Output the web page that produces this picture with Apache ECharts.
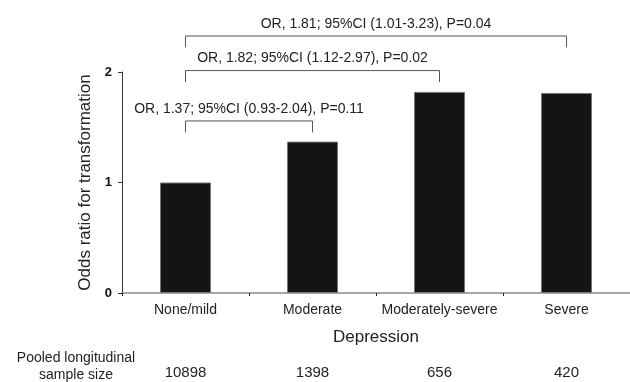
<!DOCTYPE html>
<html>
<head>
<meta charset="utf-8">
<script src="https://cdn.jsdelivr.net/npm/echarts@6/dist/echarts.min.js"></script>
<style>html,body{margin:0;padding:0;background:#fff}#c{width:630px;height:382px}</style>
</head>
<body>
<div id="c"></div>
<script>
// ---- data ----
const categories = ['None/mild', 'Moderate', 'Moderately-severe', 'Severe'];
const oddsRatios = [1.00, 1.37, 1.82, 1.81];
const sampleSizes = ['10898', '1398', '656', '420'];
const yTicks = [0, 1, 2];
const comparisonFrom = [0, 0, 0];
const comparisonTo = [1, 2, 3];
const comparisonText = [
  'OR, 1.37; 95%CI (0.93-2.04), P=0.11',
  'OR, 1.82; 95%CI (1.12-2.97), P=0.02',
  'OR, 1.81; 95%CI (1.01-3.23), P=0.04'
];

// ---- layout (in y-axis units) ----
const bracketLevel = [1.557, 2.013, 2.326];
const bracketDrop = 0.103;
const textLift = 0.11;

const FONT = '"Liberation Sans", Arial, Helvetica, sans-serif';
const chart = echarts.init(document.getElementById('c'), null, {renderer: 'canvas'});

const bracketData = comparisonFrom.map((f, i) => [f, comparisonTo[i], bracketLevel[i], bracketLevel[i] - bracketDrop, bracketLevel[i] + textLift, i]);

chart.setOption({
  animation: false,
  backgroundColor: '#fff',
  textStyle: {fontFamily: FONT},
  grid: {left: 122, width: 513, top: 72, bottom: 89, containLabel: false},
  xAxis: [{
    type: 'category',
    data: categories,
    position: 'bottom',
    axisLine: {show: true, lineStyle: {color: '#8a8a8a', width: 1.5}},
    axisTick: {show: true, inside: false, length: 3, interval: 0, lineStyle: {color: '#222', width: 1}},
    axisLabel: {color: '#222', fontSize: 14, fontFamily: FONT, margin: 10, interval: 0},
    name: 'Depression',
    nameLocation: 'middle',
    nameGap: 36,
    nameTextStyle: {color: '#222', fontSize: 17, fontFamily: FONT},
    splitLine: {show: false}
  }, {
    type: 'category',
    data: sampleSizes,
    position: 'bottom',
    axisLine: {show: false},
    axisTick: {show: false},
    axisLabel: {color: '#222', fontSize: 15, fontFamily: FONT, margin: 72, interval: 0},
    splitLine: {show: false}
  }],
  yAxis: {
    type: 'value',
    min: yTicks[0],
    max: yTicks[yTicks.length - 1],
    interval: 1,
    axisLine: {show: true, lineStyle: {color: '#333', width: 1}},
    axisTick: {show: true, length: 4, lineStyle: {color: '#333'}},
    axisLabel: {color: '#111', fontSize: 13, fontWeight: 'bold', fontFamily: FONT, margin: 10},
    splitLine: {show: false},
    name: 'Odds ratio for transformation',
    nameLocation: 'middle',
    nameRotate: 90,
    nameGap: 28,
    nameTextStyle: {color: '#222', fontSize: 17, fontFamily: FONT}
  },
  series: [{
    type: 'bar',
    data: oddsRatios,
    barWidth: 51,
    itemStyle: {color: '#141414', borderColor: '#777', borderWidth: 1}
  }, {
    type: 'custom',
    clip: false,
    silent: true,
    data: bracketData,
    encode: {x: [0, 1], y: [2, 3, 4]},
    renderItem: function (params, api) {
      const a = api.coord([api.value(0), api.value(2)]);
      const b = api.coord([api.value(1), api.value(2)]);
      const dropY = api.coord([api.value(0), api.value(3)])[1];
      const ty = api.coord([api.value(0), api.value(4)])[1];
      const idx = api.value(5);
      return {
        type: 'group',
        children: [{
          type: 'polyline',
          shape: {points: [[a[0], dropY], [a[0], a[1]], [b[0], b[1]], [b[0], dropY]]},
          style: {stroke: '#555', lineWidth: 1, fill: null}
        }, {
          type: 'text',
          style: {
            text: comparisonText[idx],
            x: (a[0] + b[0]) / 2,
            y: ty,
            align: 'center',
            verticalAlign: 'middle',
            font: '14px ' + FONT,
            fill: '#222'
          }
        }]
      };
    }
  }],
  graphic: [{
    type: 'text',
    x: 76,
    y: 349,
    style: {
      text: 'Pooled longitudinal\nsample size',
      align: 'center',
      verticalAlign: 'top',
      font: '14px ' + FONT,
      fill: '#222',
      lineHeight: 17.5
    }
  }]
});
</script>
</body>
</html>
